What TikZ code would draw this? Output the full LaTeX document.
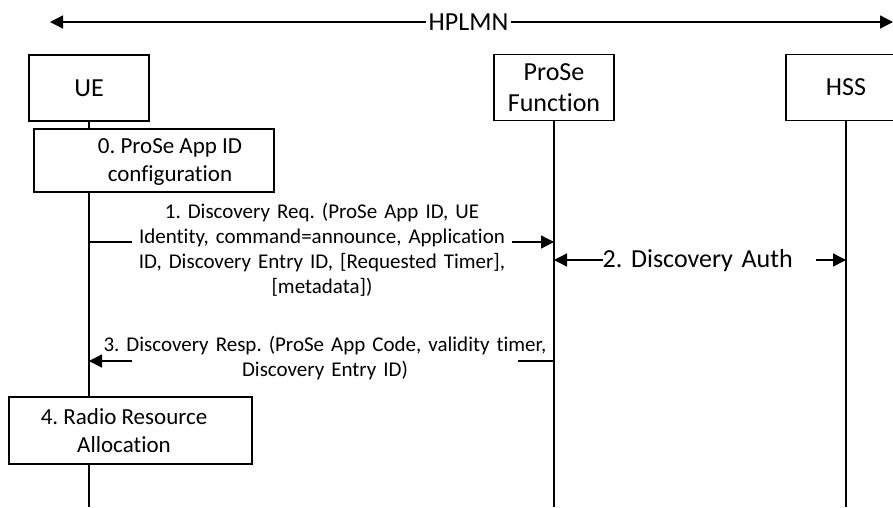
\documentclass[tikz,border=0pt]{standalone}
\usepackage{fontspec}
\setmainfont{Carlito}[Ligatures={NoCommon}]
\usetikzlibrary{arrows.meta}
\frenchspacing
\begin{document}
\begin{tikzpicture}[x=1pt, y=-1pt, line width=1.4pt,
  entity/.style={draw, fill=white, minimum width=120pt, minimum height=66pt,
    inner sep=0pt, align=center, font=\fontsize{26}{31.5}\selectfont},
  actionbox/.style={draw, fill=white, inner sep=0pt},
  actiontext/.style={align=center, inner sep=0pt, font=\fontsize{23}{28}\selectfont},
  msgtext/.style={fill=white, inner xsep=0pt, inner ysep=1pt, align=center,
    font=\fontsize{21}{25}\selectfont},
  bigtext/.style={fill=white, inner xsep=3pt, inner ysep=1pt,
    font=\fontsize{26}{31.5}\selectfont},
  tip/.style={-{Triangle[length=13pt,width=13pt]}},
  bitip/.style={{Triangle[length=13pt,width=13pt]}-{Triangle[length=13pt,width=13pt]}}]

% page frame
\useasboundingbox (0,0) rectangle (893,507);

% network scope
\coordinate (netL) at (50,22);
\coordinate (netR) at (893,22);
\draw[bitip] (netL) -- (netR);
\node[bigtext] (hplmn) at (468.5,22) {HPLMN};

% entities
\node[entity] (ue)  at (89,88)    {UE};
\node[entity] (pf)  at (554,87.5) {ProSe\\Function};
\node[entity] (hss) at (846,87.5) {HSS};

% lifelines
\coordinate (ueEnd)  at (89,507);
\coordinate (pfEnd)  at (554,507);
\coordinate (hssEnd) at (846,507);
\draw (ue.south)  -- (ueEnd);
\draw (pf.south)  -- (pfEnd);
\draw (hss.south) -- (hssEnd);

% step 0
\node[actionbox, minimum width=240pt, minimum height=63pt] (cfg) at (154,160.5) {};
\node[actiontext] (cfgtext) at (170,162) {0. ProSe App ID\\configuration};

% step 1
\coordinate (reqA) at (89,242);
\coordinate (reqB) at (554,242);
\draw[tip] (reqA) -- (reqB);
\node[msgtext, text width=380pt] (req) at (322,249.5)
  {1. Discovery Req. (ProSe App ID, UE\\
   Identity, command=announce, Application\\
   ID, Discovery Entry ID, {[Requested Timer]},\\
   {[metadata])}};

% step 2
\coordinate (authA) at (554,260);
\coordinate (authB) at (846,260);
\draw[bitip] (authA) -- (authB);
\node[bigtext, anchor=west, inner xsep=0pt, text width=213pt, align=left] (auth) at (602,261)
  {2. Discovery Auth};

% step 3
\coordinate (respA) at (554,361);
\coordinate (respB) at (89,361);
\draw[tip] (respA) -- (respB);
\node[msgtext, text width=386pt] (resp) at (325,358)
  {\makebox[386pt][c]{3. Discovery Resp. (ProSe App Code, validity timer,}\\
   Discovery Entry ID)};

% step 4
\node[actionbox, minimum width=243pt, minimum height=67pt] (radio) at (130.5,430.5) {};
\node[actiontext] (radiotext) at (124,431) {4. Radio Resource\\Allocation};
\end{tikzpicture}
\end{document}
